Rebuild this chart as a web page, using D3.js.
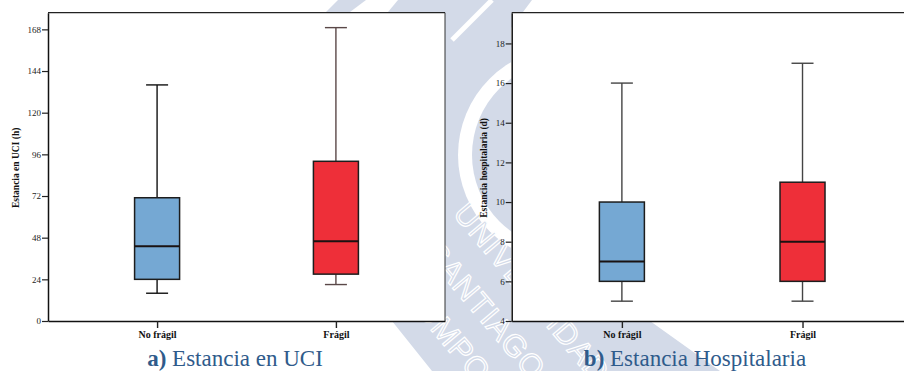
<!DOCTYPE html>
<html>
<head>
<meta charset="utf-8">
<script src="https://cdn.jsdelivr.net/npm/d3@7"></script>
<style>
  html, body { margin: 0; padding: 0; background: #fff; }
  svg { display: block; }
  .tick text { font-family: "Liberation Serif", "Times New Roman", serif; }
</style>
</head>
<body>
<svg id="chart" width="904" height="371"></svg>
<script>
// Groups compared in both panels
const categories = ["No frágil", "Frágil"];

// ICU stay (hours): five-number summaries per group
const uciMin    = [16, 21];
const uciQ1     = [24, 27];
const uciMedian = [43, 46];
const uciQ3     = [71, 92];
const uciMax    = [136, 169];
const uciTicks  = [0, 24, 48, 72, 96, 120, 144, 168];

// Hospital stay (days): five-number summaries per group
const hospMin    = [5, 5];
const hospQ1     = [6, 6];
const hospMedian = [7, 8];
const hospQ3     = [10, 11];
const hospMax    = [16, 17];
const hospTicks  = [4, 6, 8, 10, 12, 14, 16, 18];

const boxFills = ["#75a8d3", "#ee2f39"];

const svg = d3.select("#chart");

// ---- faint institutional seal behind the panels ----
const wm = svg.append("g").attr("class", "seal");
const wmFill = "#d3dae8";
wm.append("polygon")
  .attr("points", "436,0 532,0 511,28 511,321 650,321 720,371 432,371 392,321 445,321 445,10 420,12")
  .attr("fill", wmFill);
wm.append("polygon")
  .attr("points", "338,0 366,0 350,12 326,12")
  .attr("fill", wmFill);
wm.append("polygon")
  .attr("points", "398,0 445,0 445,12 388,12")
  .attr("fill", wmFill);
// ring of the seal
wm.append("circle").attr("cx", 566).attr("cy", 155).attr("r", 108).attr("fill", "#fff");
wm.append("circle").attr("cx", 566).attr("cy", 155).attr("r", 94).attr("fill", wmFill);
wm.append("line").attr("x1", 452).attr("y1", 40).attr("x2", 492).attr("y2", 0)
  .attr("stroke", "#fff").attr("stroke-width", 5);
const sealLines = [
  { text: "UNIVERSIDADE", x: 452, y: 214 },
  { text: "SANTIAGO", x: 423, y: 253 },
  { text: "COMPOSTELA", x: 398, y: 291 }
];
wm.selectAll("text.seal").data(sealLines).join("text")
  .attr("class", "seal")
  .attr("transform", d => `translate(${d.x},${d.y}) rotate(50)`)
  .attr("font-family", "Liberation Sans, Arial, sans-serif")
  .attr("font-size", 31)
  .attr("letter-spacing", 1)
  .attr("fill", wmFill)
  .attr("stroke", "#fff")
  .attr("stroke-width", 1.2)
  .text(d => d.text);

// ---- one boxplot panel ----
function drawPanel(cfg) {
  const { left, right, top, bottom, domain, ticks, mins, q1s, meds, q3s, maxs,
          yTitle, titleX, caption, tag, captionX, whiskerColors } = cfg;

  const x = d3.scalePoint().domain(categories).range([left, right]).padding(0.61);
  const y = d3.scaleLinear().domain(domain).range([bottom, top]);

  const g = svg.append("g");

  // plot area with frame on top and right
  g.append("rect")
    .attr("x", left).attr("y", top)
    .attr("width", right - left).attr("height", bottom - top)
    .attr("fill", "#fff");
  g.append("line").attr("x1", left).attr("x2", right).attr("y1", top).attr("y2", top)
    .attr("stroke", "#222").attr("stroke-width", 1.3);
  g.append("line").attr("x1", right).attr("x2", right).attr("y1", top).attr("y2", bottom)
    .attr("stroke", "#333").attr("stroke-width", 1);

  const boxW = 45, capW = 22;
  const rows = categories.map((c, i) => ({
    c, i, min: mins[i], q1: q1s[i], med: meds[i], q3: q3s[i], max: maxs[i]
  }));

  const bx = g.selectAll("g.box").data(rows).join("g").attr("class", "box");

  // whiskers
  bx.append("line")
    .attr("x1", d => x(d.c)).attr("x2", d => x(d.c))
    .attr("y1", d => y(d.max)).attr("y2", d => y(d.q3))
    .attr("stroke", d => whiskerColors[d.i]).attr("stroke-width", 1.4);
  bx.append("line")
    .attr("x1", d => x(d.c)).attr("x2", d => x(d.c))
    .attr("y1", d => y(d.q1)).attr("y2", d => y(d.min))
    .attr("stroke", d => whiskerColors[d.i]).attr("stroke-width", 1.4);
  // caps
  bx.append("line")
    .attr("x1", d => x(d.c) - capW / 2).attr("x2", d => x(d.c) + capW / 2)
    .attr("y1", d => y(d.max)).attr("y2", d => y(d.max))
    .attr("stroke", d => whiskerColors[d.i]).attr("stroke-width", 1.4);
  bx.append("line")
    .attr("x1", d => x(d.c) - capW / 2).attr("x2", d => x(d.c) + capW / 2)
    .attr("y1", d => y(d.min)).attr("y2", d => y(d.min))
    .attr("stroke", d => whiskerColors[d.i]).attr("stroke-width", 1.4);
  // interquartile box
  bx.append("rect")
    .attr("x", d => x(d.c) - boxW / 2).attr("width", boxW)
    .attr("y", d => y(d.q3)).attr("height", d => y(d.q1) - y(d.q3))
    .attr("fill", d => boxFills[d.i])
    .attr("stroke", "#1d1d1d").attr("stroke-width", 1.5);
  // median
  bx.append("line")
    .attr("x1", d => x(d.c) - boxW / 2).attr("x2", d => x(d.c) + boxW / 2)
    .attr("y1", d => y(d.med)).attr("y2", d => y(d.med))
    .attr("stroke", "#1a1212").attr("stroke-width", 2);

  // y axis
  const ya = g.append("g").attr("transform", `translate(${left},0)`)
    .call(d3.axisLeft(y).tickValues(ticks).tickSize(6).tickPadding(1).tickSizeOuter(0));
  ya.select(".domain").attr("stroke", "#111").attr("stroke-width", 1.5);
  ya.selectAll(".tick line").attr("stroke", "#222").attr("stroke-width", 1.2);
  ya.selectAll(".tick text").attr("font-size", 9).attr("fill", "#222");

  // x axis
  const xa = g.append("g").attr("transform", `translate(0,${bottom})`)
    .call(d3.axisBottom(x).tickSize(7).tickPadding(3).tickSizeOuter(0));
  xa.select(".domain").attr("stroke", "#111").attr("stroke-width", 1.5);
  xa.selectAll(".tick line").attr("stroke", "#222").attr("stroke-width", 1.4);
  xa.selectAll(".tick text").attr("font-size", 10).attr("font-weight", "bold").attr("fill", "#111");

  // y title
  g.append("text")
    .attr("transform", `translate(${titleX},${(top + bottom) / 2 + 1}) rotate(-90)`)
    .attr("text-anchor", "middle")
    .attr("font-family", "Liberation Serif, Times New Roman, serif")
    .attr("font-weight", "bold").attr("font-size", 9.5).attr("fill", "#111")
    .text(yTitle);

  // caption
  const cap = svg.append("text")
    .attr("x", captionX).attr("y", 366)
    .attr("text-anchor", "middle")
    .attr("font-family", "Liberation Serif, Times New Roman, serif")
    .attr("font-size", 23).attr("fill", "#2f5b8b");
  cap.append("tspan").attr("font-weight", "bold").text(tag);
  cap.append("tspan").text(" " + caption);
}

drawPanel({
  left: 48, right: 445, top: 12.7, bottom: 321,
  domain: [0, 177.6], ticks: uciTicks,
  mins: uciMin, q1s: uciQ1, meds: uciMedian, q3s: uciQ3, maxs: uciMax,
  yTitle: "Estancia en UCI (h)", titleX: 19,
  tag: "a)", caption: "Estancia en UCI", captionX: 235,
  whiskerColors: ["#111", "#5a4848"]
});

drawPanel({
  left: 511.7, right: 912.7, top: 12.7, bottom: 321,
  domain: [4, 19.55], ticks: hospTicks,
  mins: hospMin, q1s: hospQ1, meds: hospMedian, q3s: hospQ3, maxs: hospMax,
  yTitle: "Estancia hospitalaria (d)", titleX: 487,
  tag: "b)", caption: "Estancia Hospitalaria", captionX: 695,
  whiskerColors: ["#444", "#444"]
});
</script>
</body>
</html>
